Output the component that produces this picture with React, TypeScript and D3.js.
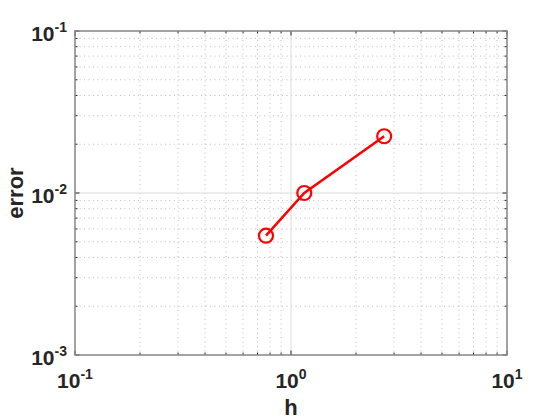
import React from "react";
import * as d3 from "d3";

const hValues = [0.766, 1.152, 2.7];
const errorValues = [0.00545, 0.01, 0.0224];
const xDecades = [-1, 0, 1];
const yDecades = [-3, -2, -1];

const width = 560;
const height = 420;
const margin = { top: 31, right: 53, bottom: 65, left: 75 };

export default function App() {
  const x = d3.scaleLog().domain([0.1, 10]).range([margin.left, width - margin.right]);
  const y = d3.scaleLog().domain([0.001, 0.1]).range([height - margin.bottom, margin.top]);
  const [x0, x1] = x.range();
  const [y0, y1] = y.range(); // y0 bottom, y1 top

  const minorX: number[] = [];
  for (let d = -1; d < 1; d++) for (let k = 2; k <= 9; k++) minorX.push(k * Math.pow(10, d));
  const minorY: number[] = [];
  for (let d = -3; d < -1; d++) for (let k = 2; k <= 9; k++) minorY.push(k * Math.pow(10, d));

  const line = d3
    .line<number>()
    .x((_, i) => x(hValues[i]))
    .y((d) => y(d));

  const font = "'Liberation Sans', Arial, Helvetica, sans-serif";
  const tickColor = "#262626";

  return (
    <svg
      width={width}
      height={height}
      style={{ position: "absolute", left: 0, top: 0, background: "#fff" }}
      fontFamily={font}
    >
      <rect x={x0} y={y1} width={x1 - x0} height={y0 - y1} fill="#fff" />
      {/* minor grid */}
      <g stroke="#bdbdbd" strokeWidth={1} strokeDasharray="1,3.5">
        {minorX.map((v) => (
          <line key={"mx" + v} x1={x(v)} x2={x(v)} y1={y1} y2={y0} />
        ))}
        {minorY.map((v) => (
          <line key={"my" + v} x1={x0} x2={x1} y1={y(v)} y2={y(v)} />
        ))}
      </g>
      {/* major grid */}
      <g stroke="#dcdcdc" strokeWidth={1}>
        <line x1={x(1)} x2={x(1)} y1={y1} y2={y0} />
        <line x1={x0} x2={x1} y1={y(0.01)} y2={y(0.01)} />
      </g>
      {/* ticks */}
      <g stroke={tickColor} strokeWidth={1}>
        {minorX.map((v) => (
          <g key={"tx" + v}>
            <line x1={x(v)} x2={x(v)} y1={y0} y2={y0 - 2.5} />
            <line x1={x(v)} x2={x(v)} y1={y1} y2={y1 + 2.5} />
          </g>
        ))}
        {minorY.map((v) => (
          <g key={"ty" + v}>
            <line x1={x0} x2={x0 + 2.5} y1={y(v)} y2={y(v)} />
            <line x1={x1} x2={x1 - 2.5} y1={y(v)} y2={y(v)} />
          </g>
        ))}
        {xDecades.map((d) => (
          <g key={"Mx" + d}>
            <line x1={x(10 ** d)} x2={x(10 ** d)} y1={y0} y2={y0 - 4.5} />
            <line x1={x(10 ** d)} x2={x(10 ** d)} y1={y1} y2={y1 + 4.5} />
          </g>
        ))}
        {yDecades.map((d) => (
          <g key={"My" + d}>
            <line x1={x0} x2={x0 + 4.5} y1={y(10 ** d)} y2={y(10 ** d)} />
            <line x1={x1} x2={x1 - 4.5} y1={y(10 ** d)} y2={y(10 ** d)} />
          </g>
        ))}
      </g>
      {/* box */}
      <rect
        x={x0}
        y={y1}
        width={x1 - x0}
        height={y0 - y1}
        fill="none"
        stroke="#858585"
        strokeWidth={1.5}
      />
      {/* tick labels */}
      <g fill={tickColor} fontWeight="bold" fontSize={21}>
        {xDecades.map((d) => (
          <text key={"lx" + d} x={x(10 ** d)} y={y0 + 33} textAnchor="middle">
            10
            <tspan fontSize={14} dy={-9}>
              {d}
            </tspan>
          </text>
        ))}
        {yDecades.map((d) => (
          <text key={"ly" + d} x={x0 - 8} y={y(10 ** d) + 9.5} textAnchor="end">
            10
            <tspan fontSize={14} dy={-9}>
              {d}
            </tspan>
          </text>
        ))}
      </g>
      {/* axis labels */}
      <text
        x={(x0 + x1) / 2}
        y={415}
        textAnchor="middle"
        fontWeight="bold"
        fontSize={22}
        fill={tickColor}
      >
        h
      </text>
      <text
        transform={`translate(23,${(y0 + y1) / 2}) rotate(-90)`}
        textAnchor="middle"
        fontWeight="bold"
        fontSize={22}
        fill={tickColor}
      >
        error
      </text>
      {/* data */}
      <path d={line(errorValues) || ""} fill="none" stroke="#ff0000" strokeWidth={2.5} />
      {errorValues.map((v, i) => (
        <circle
          key={i}
          cx={x(hValues[i])}
          cy={y(v)}
          r={7}
          fill="none"
          stroke="#ff0000"
          strokeWidth={2.2}
        />
      ))}
    </svg>
  );
}
